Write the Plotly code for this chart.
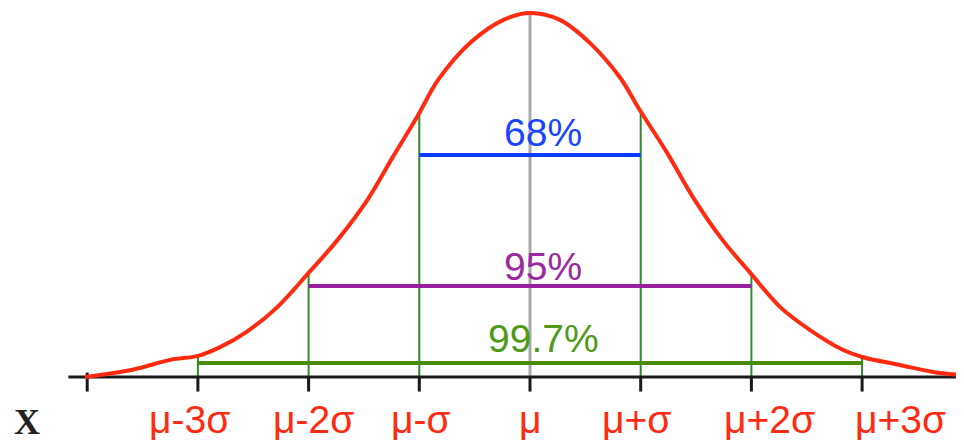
import plotly.graph_objects as go

# curve: x in sigma units, height relative to the peak
curve_x = [-4.02, -3.59, -3.25, -3.0, -2.80, -2.56, -2.29, -2.0, -1.74, -1.47, -1.24,
           -1.01, -0.83, -0.54, -0.24, 0.0, 0.27, 0.54, 0.81, 0.99, 1.24, 1.47, 1.74,
           1.99, 2.26, 2.53, 2.83, 3.0, 3.34, 3.64, 3.91]
curve_y = [0.0, 0.02, 0.047, 0.058, 0.082, 0.124, 0.19, 0.286, 0.376, 0.486, 0.604,
           0.72, 0.816, 0.918, 0.981, 1.0, 0.981, 0.918, 0.824, 0.734, 0.615, 0.495, 0.376,
           0.286, 0.192, 0.129, 0.074, 0.055, 0.033, 0.014, 0.005]

tick_pos = [-4, -3, -2, -1, 0, 1, 2, 3]
tick_labels = ["", "μ-3σ", "μ-2σ", "μ-σ", "μ", "μ+σ", "μ+2σ", "μ+3σ"]
tick_up = [0.012, 0, 0, 0, 0, 0, 0, 0]

# green drop lines at each sigma, up to the curve
drop_x = [-3, -2, -1, 1, 2, 3]
drop_top = [0.058, 0.286, 0.72, 0.733, 0.288, 0.055]

# coverage intervals
interval_names = ["68%", "95%", "99.7%"]
interval_k = [1, 2, 3]
interval_level = [0.61, 0.25, 0.0385]

axis_left, axis_right = -4.17, 3.93

colors = ["#0a3cff", "#9a1f9e", "#4a8c0c"]
text_colors = ["#1a44ff", "#9a2a9e", "#4f9a18"]
red = "#ff2a10"
sans = "Liberation Sans, Arial, Helvetica"

fig = go.Figure()

# mean line
fig.add_trace(go.Scatter(x=[0, 0], y=[0, 1.0], mode="lines",
                         line=dict(color="#aaaaaa", width=3)))

for x, top in zip(drop_x, drop_top):
    fig.add_trace(go.Scatter(x=[x, x], y=[0, top], mode="lines",
                             line=dict(color="#2e8b2e", width=2)))

for k, lvl, c in zip(interval_k, interval_level, colors):
    fig.add_trace(go.Scatter(x=[-k, k], y=[lvl, lvl], mode="lines",
                             line=dict(color=c, width=4)))

# x axis and ticks
fig.add_trace(go.Scatter(x=[axis_left, axis_right], y=[0, 0], mode="lines",
                         line=dict(color="#1a1a1a", width=3)))
for t, up in zip(tick_pos, tick_up):
    fig.add_trace(go.Scatter(x=[t, t], y=[up, -0.04], mode="lines",
                             line=dict(color="#1a1a1a", width=3)))

fig.add_trace(go.Scatter(x=curve_x, y=curve_y, mode="lines",
                         line=dict(color=red, width=4, shape="spline")))

label_shift = [0, -8, 5, 2, 0, -4, 18, 38]
for t, lab, dx in zip(tick_pos, tick_labels, label_shift):
    if lab:
        fig.add_annotation(x=t, y=-0.118, text=lab, showarrow=False, xshift=dx,
                           font=dict(family=sans, size=39, color=red))

pct_shift = [22, 20, 24]
for name, lvl, c, dy in zip(interval_names, interval_level, text_colors, pct_shift):
    fig.add_annotation(x=0, y=lvl, text=name, showarrow=False, xshift=13, yshift=dy,
                       font=dict(family=sans, size=39, color=c))

fig.add_annotation(x=0.02, y=0.0526, xref="paper", yref="paper", text="<b>X</b>",
                   showarrow=False, xanchor="center", yanchor="middle",
                   font=dict(family="Liberation Serif, Times New Roman", size=36, color="#222222"))

# page body has an 8px margin, so the figure is sized and ranged to land on the same pixels
fig.update_layout(
    width=956, height=437,
    margin=dict(l=0, r=0, t=0, b=0),
    showlegend=False,
    plot_bgcolor="white", paper_bgcolor="white",
    xaxis=dict(visible=False, range=[-4.7155, 3.9205]),
    yaxis=dict(visible=False, range=[-0.1868, 1.0137]),
)

fig.write_html("out.html")
